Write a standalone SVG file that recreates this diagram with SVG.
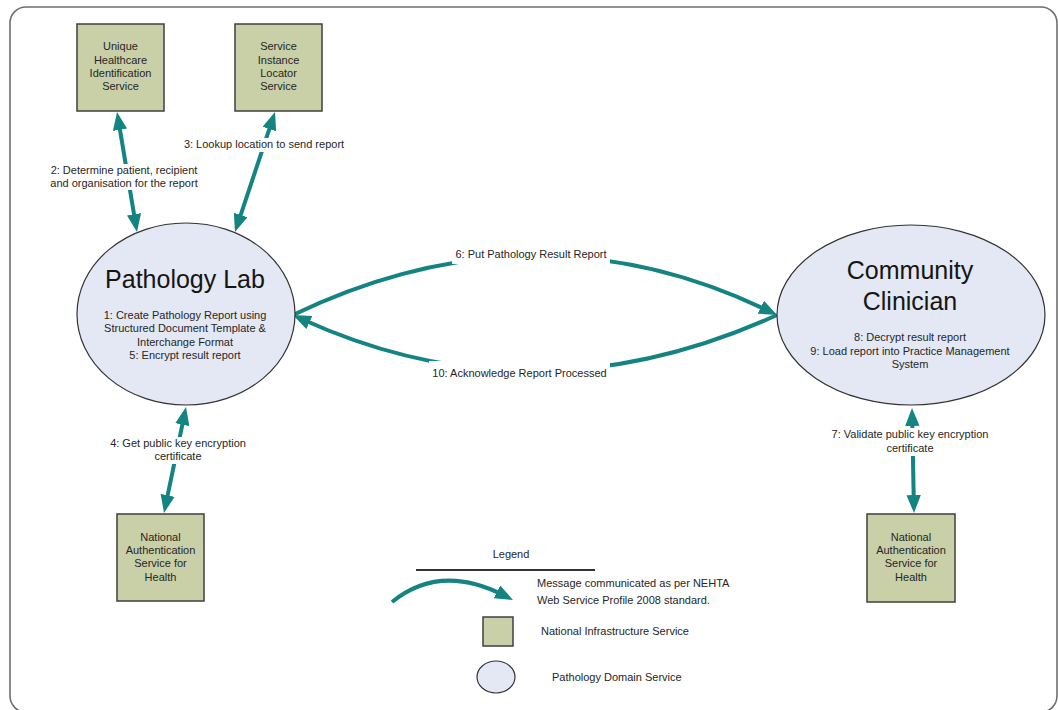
<svg xmlns="http://www.w3.org/2000/svg" width="1058" height="710" viewBox="0 0 1058 710">
  <style>
    .frame { fill: #ffffff; stroke: #6e6e6e; stroke-width: 1.6; }
    .infra { fill: #c9cfa7; stroke: #3f3f3f; stroke-width: 1.5; }
    .domain { fill: #e3e8f4; stroke: #333333; stroke-width: 1.2; }
    .msg { fill: none; stroke: #138481; stroke-width: 4; }
    .lblbg { fill: #ffffff; stroke: none; }
    text { font-family: "Liberation Sans", Arial, sans-serif; fill: #262626; }
    .small { font-size: 11px; }
    .title { font-size: 25px; fill: #151515; }
    .mid { text-anchor: middle; }
  </style>
  <defs>
    <marker id="head" viewBox="0 0 10 8" refX="4" refY="4" markerWidth="4.5" markerHeight="3.6" markerUnits="strokeWidth" orient="auto-start-reverse">
      <path d="M0,0 L10,4 L0,8 Z" fill="#138481"/>
    </marker>
  </defs>

  <!-- page frame -->
  <rect class="frame" x="10" y="7" width="1047" height="705" rx="16" ry="16"/>

  <!-- connectors -->
  <g id="connectors">
    <path class="msg" d="M118.8,122.6 L135.2,221.4" marker-start="url(#head)" marker-end="url(#head)"/>
    <path class="msg" d="M271.6,122.2 L238.4,221.8" marker-start="url(#head)" marker-end="url(#head)"/>
    <path class="msg" d="M183.8,417.6 L166.2,502.4" marker-start="url(#head)" marker-end="url(#head)"/>
    <path class="msg" d="M912.2,418.8 L913.8,502.2" marker-start="url(#head)" marker-end="url(#head)"/>
    <path class="msg" d="M293,315 Q535,199 767.3,310.3" marker-end="url(#head)"/>
    <path class="msg" d="M777,315 Q535,425 302.8,319.5" marker-end="url(#head)"/>

    <rect class="lblbg" x="48" y="164" width="153" height="26"/>
    <text class="small mid" x="124" y="174">2: Determine patient, recipient</text>
    <text class="small mid" x="124" y="187">and organisation for the report</text>

    <rect class="lblbg" x="182" y="138" width="165" height="14"/>
    <text class="small mid" x="264" y="148">3: Lookup location to send report</text>

    <rect class="lblbg" x="108" y="437" width="140" height="27"/>
    <text class="small mid" x="178" y="447">4: Get public key encryption</text>
    <text class="small mid" x="178" y="460">certificate</text>

    <rect class="lblbg" x="829" y="428" width="163" height="28"/>
    <text class="small mid" x="910" y="438">7: Validate public key encryption</text>
    <text class="small mid" x="910" y="452">certificate</text>

    <rect class="lblbg" x="452" y="247" width="158" height="17"/>
    <text class="small mid" x="531" y="258">6: Put Pathology Result Report</text>

    <rect class="lblbg" x="429" y="361" width="181" height="20"/>
    <text class="small mid" x="519.5" y="377">10: Acknowledge Report Processed</text>
  </g>

  <!-- national infrastructure services -->
  <g id="uhis">
    <rect class="infra" x="77" y="24" width="87" height="87"/>
    <text class="small mid" x="120.5" y="50">Unique</text>
    <text class="small mid" x="120.5" y="64">Healthcare</text>
    <text class="small mid" x="120.5" y="77">Identification</text>
    <text class="small mid" x="120.5" y="90">Service</text>
  </g>
  <g id="sils">
    <rect class="infra" x="235" y="24" width="87" height="87"/>
    <text class="small mid" x="278.5" y="50">Service</text>
    <text class="small mid" x="278.5" y="64">Instance</text>
    <text class="small mid" x="278.5" y="77">Locator</text>
    <text class="small mid" x="278.5" y="90">Service</text>
  </g>
  <g id="nash-lab">
    <rect class="infra" x="117" y="514" width="87" height="87"/>
    <text class="small mid" x="160.5" y="541">National</text>
    <text class="small mid" x="160.5" y="554">Authentication</text>
    <text class="small mid" x="160.5" y="567">Service for</text>
    <text class="small mid" x="160.5" y="581">Health</text>
  </g>
  <g id="nash-clinician">
    <rect class="infra" x="867" y="514" width="88" height="88"/>
    <text class="small mid" x="911" y="541">National</text>
    <text class="small mid" x="911" y="554">Authentication</text>
    <text class="small mid" x="911" y="567">Service for</text>
    <text class="small mid" x="911" y="581">Health</text>
  </g>

  <!-- pathology domain services -->
  <g id="pathology-lab">
    <ellipse class="domain" cx="186" cy="314" rx="109" ry="91"/>
    <text class="title mid" x="185" y="288">Pathology Lab</text>
    <text class="small mid" x="185" y="319">1: Create Pathology Report using</text>
    <text class="small mid" x="185" y="332">Structured Document Template &amp;</text>
    <text class="small mid" x="185" y="346">Interchange Format</text>
    <text class="small mid" x="185" y="359">5: Encrypt result report</text>
  </g>
  <g id="community-clinician">
    <ellipse class="domain" cx="911" cy="315" rx="134" ry="90"/>
    <text class="title mid" x="910" y="279">Community</text>
    <text class="title mid" x="910" y="310">Clinician</text>
    <text class="small mid" x="910" y="341">8: Decrypt result report</text>
    <text class="small mid" x="910" y="355">9: Load report into Practice Management</text>
    <text class="small mid" x="910" y="368">System</text>
  </g>

  <!-- legend -->
  <g id="legend">
    <text class="small mid" x="511" y="558">Legend</text>
    <line x1="416" y1="570" x2="595" y2="570" stroke="#333333" stroke-width="2"/>
    <path class="msg" d="M392,602 Q440,563 503.4,595.1" marker-end="url(#head)"/>
    <text class="small" x="537" y="587">Message communicated as per NEHTA</text>
    <text class="small" x="537" y="604">Web Service Profile 2008 standard.</text>
    <rect class="infra" x="483" y="617" width="30" height="29" stroke-width="1.2"/>
    <text class="small" x="541" y="635">National Infrastructure Service</text>
    <ellipse class="domain" cx="496" cy="677" rx="19" ry="16"/>
    <text class="small" x="552" y="681">Pathology Domain Service</text>
  </g>
</svg>
